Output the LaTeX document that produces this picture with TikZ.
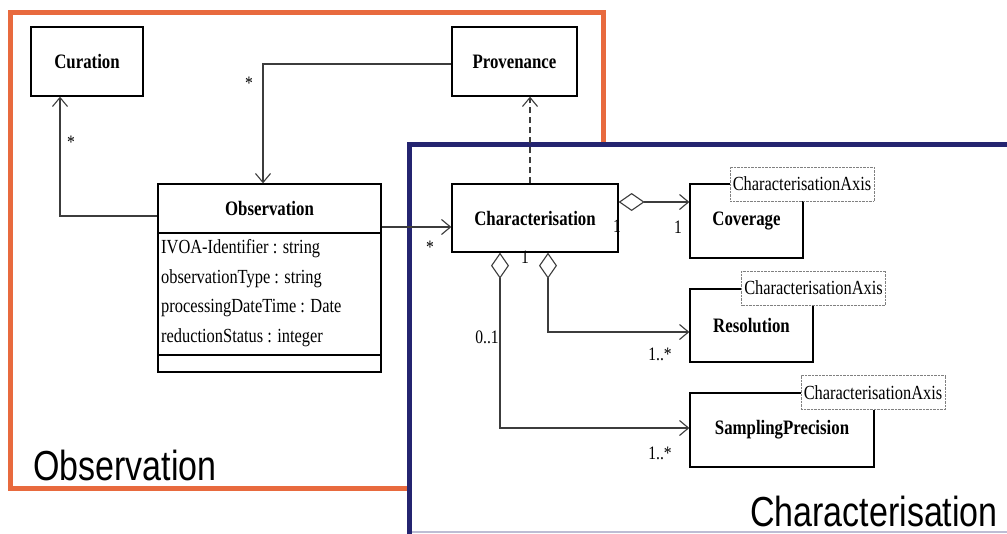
\documentclass[tikz,border=0pt]{standalone}
\usepackage{fontspec}
\setmainfont{Liberation Serif}
\newfontfamily\bigsans{Liberation Sans}
\usetikzlibrary{arrows.meta}
\definecolor{obsorange}{RGB}{232,106,62}
\definecolor{charblue}{RGB}{36,36,112}
\definecolor{linegray}{RGB}{60,60,60}
\newcommand{\narrow}[1]{\scalebox{0.82}[1]{#1}}

\begin{document}
\begin{tikzpicture}[x=1pt, y=-1pt,
  cls/.style={draw, line width=1.3pt, fill=white, inner sep=0pt, font=\fontsize{20.5}{22}\selectfont\bfseries},
  axisbox/.style={draw=gray, densely dotted, fill=white, inner sep=0pt, minimum width=144pt, minimum height=34pt, font=\fontsize{20}{22}\selectfont},
  attr/.style={anchor=west, inner sep=0pt, font=\fontsize{20}{22}\selectfont},
  mult/.style={inner sep=0pt, font=\fontsize{19}{21}\selectfont},
  assoc/.style={draw=linegray, line width=1.1pt, -{Straight Barb[length=9pt,width=15pt]}},
  aggr/.style={assoc, {Diamond[open,length=26pt,width=18pt]}-{Straight Barb[length=9pt,width=15pt]}},
  bigframe/.style={line width=5pt},
  biglabel/.style={inner sep=0pt, font=\bigsans\fontsize{42}{42}\selectfont}]
\useasboundingbox (0,0) rectangle (1007,533);
\draw[bigframe, obsorange] (10,12) rectangle (603,488);
\fill[white] (409,144) rectangle (1020,545);
\draw[line width=2pt, charblue!30] (409,531.5) -- (1020,531.5);
\draw[bigframe, charblue] (1020,144) -- (409,144) -- (409,545);

\node[cls, minimum width=112pt, minimum height=69pt] (cur) at (87,61.5) {\narrow{Curation}};
\node[cls, minimum width=125pt, minimum height=69pt] (prov) at (514.5,61.5) {\narrow{Provenance}};
\node[cls, minimum width=223pt, minimum height=49pt] (obshead) at (269.5,208.5) {\narrow{Observation}};
\node[cls, minimum width=223pt, minimum height=122pt] (obsattr) at (269.5,294) {};
\node[cls, minimum width=223pt, minimum height=17pt] (obsops) at (269.5,363.5) {};
\foreach \a [count=\i] in {IVOA-Identifier : string, observationType : string, processingDateTime : Date, reductionStatus : integer}
  \node[attr] (attr\i) at (161,219.5+29.5*\i) {\narrow{\a}};

\node[cls, minimum width=166pt, minimum height=68pt] (char) at (535,218) {\narrow{Characterisation}};
\node[cls, minimum width=113pt, minimum height=74pt] (cov) at (746.5,221) {\narrow{Coverage}};
\node[cls, minimum width=123pt, minimum height=73pt] (res) at (751.5,325.5) {\narrow{Resolution}};
\node[cls, minimum width=184pt, minimum height=74pt] (samp) at (782,430) {\narrow{SamplingPrecision}};
\node[axisbox] (covaxis) at (802,184) {\narrow{CharacterisationAxis}};
\node[axisbox] (resaxis) at (813.5,288) {\narrow{CharacterisationAxis}};
\node[axisbox] (sampaxis) at (873,392.5) {\narrow{CharacterisationAxis}};

\draw[assoc] ([yshift=-7.5pt]obshead.west) -| ([xshift=-27pt]cur.south);
\draw[assoc] ([yshift=-2.5pt]prov.west) -| ([xshift=-6.5pt]obshead.north);
\draw[assoc] ([yshift=-18.5pt]obshead.east) -- ([yshift=-18.5pt]obshead.east -| char.west);
\draw[assoc, dash pattern=on 6pt off 4pt] ([xshift=-5pt]char.north) -- ([xshift=-5pt]char.north |- prov.south);
\draw[aggr] ([yshift=16pt]char.east) -- ([yshift=16pt]char.east -| cov.west);
\draw[aggr] ([xshift=13pt]char.south) |- ([yshift=-6.5pt]res.west);
\draw[aggr] ([xshift=-35pt]char.south) |- ([yshift=2pt]samp.west);

\node[mult] (mcur) at (71,142) {\narrow{*}};
\node[mult] (mprov) at (249,83) {\narrow{*}};
\node[mult] (mchar) at (430,247) {\narrow{*}};
\node[mult] (mcov) at (678,227) {\narrow{1}};
\node[mult] (mcharcov) at (617,226) {\narrow{1}};
\node[mult] (mcharres) at (525,257) {\narrow{1}};
\node[mult] (mres) at (660,354) {\narrow{1..*}};
\node[mult] (mcharsamp) at (487,337) {\narrow{0..1}};
\node[mult] (msamp) at (660,453) {\narrow{1..*}};

\node[biglabel, anchor=base west] (obslabel) at (33,480) {\scalebox{0.81}[1]{Observation}};
\node[biglabel, anchor=base east] (charlabel) at (998,526) {\scalebox{0.81}[1]{Characterisation}};
\end{tikzpicture}
\end{document}
